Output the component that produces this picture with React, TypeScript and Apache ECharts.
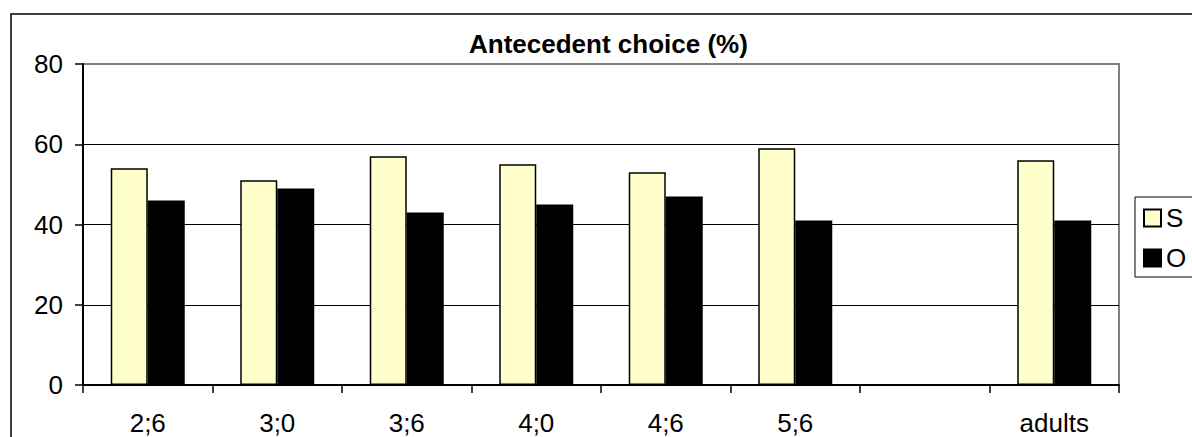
import React, { useEffect, useRef } from "react";
import * as echarts from "echarts";

const categories = ["2;6", "3;0", "3;6", "4;0", "4;6", "5;6", "", "adults"];
const sValues: (number | null)[] = [54, 51, 57, 55, 53, 59, null, 56];
const oValues: (number | null)[] = [46, 49, 43, 45, 47, 41, null, 41];
const yTicks = { min: 0, max: 80, interval: 20 };
const titleText = "Antecedent choice (%)";

const FONT = "'Liberation Sans', Arial, Helvetica, sans-serif";

export default function App() {
  const ref = useRef<HTMLDivElement>(null);
  useEffect(() => {
    if (!ref.current) return;
    const chart = echarts.init(ref.current, undefined, { renderer: "svg" });
    chart.setOption({
      animation: false,
      backgroundColor: "#ffffff",
      textStyle: { fontFamily: FONT },
      title: {
        text: titleText,
        left: 469,
        top: 31,
        padding: 0,
        textStyle: { fontFamily: FONT, fontSize: 26, fontWeight: "bold", color: "#000" },
      },
      graphic: [
        {
          type: "rect",
          shape: { x: 11, y: 14, width: 1300, height: 600 },
          style: { fill: "none", stroke: "#000", lineWidth: 1.5 },
          silent: true,
          z: 100,
        },
      ],
      legend: {
        orient: "vertical",
        left: 1135,
        top: 197,
        padding: [8, 12, 6, 8],
        itemGap: 14,
        itemWidth: 17,
        itemHeight: 17,
        icon: "rect",
        borderColor: "#000",
        borderWidth: 1,
        textStyle: { fontFamily: FONT, fontSize: 26, color: "#000" },
        data: ["S", "O"],
      },
      grid: {
        left: 83,
        top: 64,
        right: 73,
        bottom: 52,
        show: true,
        borderColor: "#808080",
        borderWidth: 2,
        backgroundColor: "transparent",
      },
      xAxis: {
        type: "category",
        data: categories,
        axisLine: { show: true, lineStyle: { color: "#000", width: 2 } },
        axisTick: { show: true, length: 8, lineStyle: { color: "#000", width: 1.5 } },
        axisLabel: { fontFamily: FONT, fontSize: 26, color: "#000", margin: 25, interval: 0 },
        splitLine: { show: false },
      },
      yAxis: {
        type: "value",
        min: yTicks.min,
        max: yTicks.max,
        interval: yTicks.interval,
        axisLine: { show: true, lineStyle: { color: "#000", width: 2 } },
        axisTick: { show: true, length: 8, lineStyle: { color: "#000", width: 1.5 } },
        axisLabel: { fontFamily: FONT, fontSize: 26, color: "#000", margin: 20 },
        splitLine: { show: true, showMinLine: false, showMaxLine: false, lineStyle: { color: "#000", width: 1 } },
      },
      series: [
        {
          name: "S",
          type: "bar",
          data: sValues,
          barWidth: 37,
          barGap: "0%",
          itemStyle: { color: "#FFFFCC", borderColor: "#000", borderWidth: 1.5 },
        },
        {
          name: "O",
          type: "bar",
          data: oValues,
          barWidth: 37,
          barGap: "0%",
          itemStyle: { color: "#000000", borderColor: "#000", borderWidth: 1.5 },
        },
      ],
    });
    return () => chart.dispose();
  }, []);
  return (
    <div
      ref={ref}
      style={{ position: "fixed", left: 0, top: 0, width: 1192, height: 437 }}
    />
  );
}
